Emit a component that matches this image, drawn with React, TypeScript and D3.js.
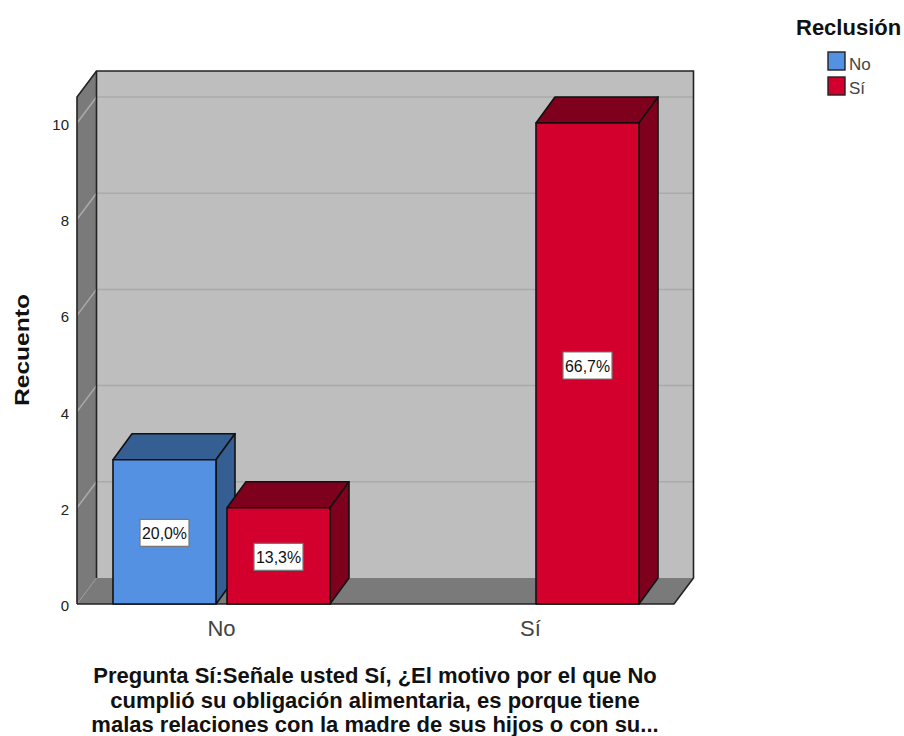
// App.tsx
import React from "react";
import * as d3 from "d3";

const categories = ["No", "Sí"];
const seriesNames = ["No", "Sí"];
const noValues = [3, null];
const siValues = [2, 10];
const noLabels = ["20,0%", null];
const siLabels = ["13,3%", "66,7%"];
const yTicks = [0, 2, 4, 6, 8, 10];
const titleLines = [
  "Pregunta Sí:Señale usted Sí, ¿El motivo por el que No",
  "cumplió su obligación alimentaria, es porque tiene",
  "malas relaciones con la madre de sus hijos o con su...",
];

const FONT = "'Liberation Sans', Arial, sans-serif";
const depth = { dx: 19.5, dy: -26 };
const barDepth = { dx: 19, dy: -26 };

const colors = [
  { face: "#5591e3", side: "#355f93" },
  { face: "#d3002d", side: "#7f001c" },
];

const y = d3.scaleLinear().domain([0, 10]).range([604, 123]);
const x0 = d3.scaleBand<string>().domain(categories).range([67, 685]);
const x1 = d3.scaleBand<string>().domain(seriesNames).range([46, 263]).paddingInner(0.0965);

const plot = { left: 77, right: 674, top: 97, bottom: 604 };

const pts = (p: number[][]) => p.map((d) => d.join(",")).join(" ");

const Bar = ({ cat, series, value, label, c }: any) => {
  const xl = x0(cat)! + x1(series)!;
  const xr = xl + x1.bandwidth();
  const yt = y(value);
  const yb = y(0);
  const { dx, dy } = barDepth;
  const cx = (xl + xr) / 2;
  const cy = (yt + yb) / 2 + (value === 10 ? 2 : 1);
  return (
    <g stroke="#111" strokeWidth={1.6} strokeLinejoin="round">
      <polygon points={pts([[xl, yt], [xr, yt], [xr + dx, yt + dy], [xl + dx, yt + dy]])} fill={c.side} />
      <polygon points={pts([[xr, yt], [xr + dx, yt + dy], [xr + dx, yb + dy], [xr, yb]])} fill={c.side} />
      <rect x={xl} y={yt} width={xr - xl} height={yb - yt} fill={c.face} />
      <rect x={cx - 24.5} y={cy - 13.5} width={49} height={27} fill="#fff" stroke="#777" strokeWidth={1.2} />
      <text x={cx} y={cy + 6} textAnchor="middle" fontSize={16} textLength={45} lengthAdjust="spacingAndGlyphs" stroke="none" fill="#111" fontFamily={FONT}>
        {label}
      </text>
    </g>
  );
};

export default function App() {
  const { dx, dy } = depth;
  const { left, right, top, bottom } = plot;
  return (
    <svg
      width={904}
      height={736}
      style={{ position: "absolute", left: 0, top: 0, background: "#fff", display: "block" }}
      fontFamily={FONT}
    >
      {/* back wall */}
      <rect x={left + dx} y={top + dy} width={right - left} height={bottom - top} fill="#bebebe" />
      {/* left wall and floor */}
      <polygon points={pts([[left, top], [left + dx, top + dy], [left + dx, bottom + dy], [left, bottom]])} fill="#7a7a7a" />
      <polygon points={pts([[left, bottom], [left + dx, bottom + dy], [right + dx, bottom + dy], [right, bottom]])} fill="#7a7a7a" />

      {/* grid lines */}
      {yTicks.filter((t) => t > 0).map((t) => (
        <g key={t} fill="none" stroke="#aaaaaa" strokeWidth={1.5}>
          <line x1={left + dx} x2={right + dx} y1={y(t) + dy} y2={y(t) + dy} />
          <line x1={left} x2={left + dx} y1={y(t)} y2={y(t) + dy} />
        </g>
      ))}
      <line x1={left} x2={left + dx} y1={bottom} y2={bottom + dy} stroke="#999" strokeWidth={1} />

      {/* frame */}
      <g stroke="#222" strokeWidth={1.6} fill="none">
        <polyline points={pts([[left, bottom], [left, top], [left + dx, top + dy], [right + dx, top + dy], [right + dx, bottom + dy], [right, bottom], [left, bottom]])} />
        <line x1={left + dx} x2={left + dx} y1={top + dy} y2={bottom + dy} />
      </g>

      {/* y axis */}
      {yTicks.map((t) => (
        <text key={t} x={69} y={y(t) + 7} textAnchor="end" fontSize={15} fill="#222">
          {t}
        </text>
      ))}
      <text
        transform="translate(29,350) rotate(-90)"
        textAnchor="middle"
        fontSize={21}
        fontWeight="bold"
        fill="#111"
        textLength={112}
        lengthAdjust="spacingAndGlyphs"
      >
        Recuento
      </text>

      {/* bars */}
      {categories.map((cat, i) => (
        <g key={cat}>
          {noValues[i] != null && (
            <Bar cat={cat} series={seriesNames[0]} value={noValues[i]} label={noLabels[i]} c={colors[0]} />
          )}
          {siValues[i] != null && (
            <Bar cat={cat} series={seriesNames[1]} value={siValues[i]} label={siLabels[i]} c={colors[1]} />
          )}
        </g>
      ))}

      {/* category labels */}
      {categories.map((cat) => (
        <text key={cat} x={x0(cat)! + x0.bandwidth() / 2} y={636} textAnchor="middle" fontSize={22} fill="#444">
          {cat}
        </text>
      ))}

      {/* x title */}
      {titleLines.map((line, i) => (
        <text key={i} x={375} y={683 + i * 24.5} textAnchor="middle" fontSize={22} fontWeight="bold" fill="#111">
          {line}
        </text>
      ))}

      {/* legend */}
      <text x={796} y={35} fontSize={22} fontWeight="bold" fill="#111">
        Reclusión
      </text>
      {seriesNames.map((s, i) => (
        <g key={s}>
          <rect x={828} y={52 + i * 25} width={17} height={18} fill={colors[i].face} stroke="#222" strokeWidth={1.4} />
          <text x={849} y={70 + i * 24} fontSize={17} fill="#444">
            {s}
          </text>
        </g>
      ))}
    </svg>
  );
}
